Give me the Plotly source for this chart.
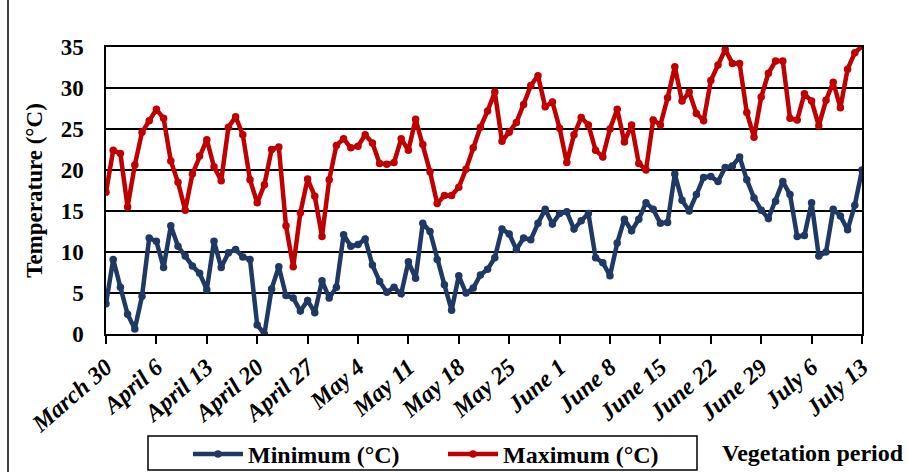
import pandas as pd
import plotly.graph_objects as go

# Daily observation dates of the vegetation period
dates = pd.date_range("2021-03-30", "2021-07-13", freq="D")

# Daily minimum air temperature (°C)
t_min = [
    3.7, 9.1, 5.7, 2.4, 0.6, 4.6, 11.7, 11.3, 8.1, 13.2,
    10.7, 9.5, 8.3, 7.4, 5.4, 11.3, 8.1, 9.9, 10.3, 9.4,
    9.1, 1.1, 0.0, 5.5, 8.2, 4.7, 4.4, 2.8, 4.1, 2.6,
    6.5, 4.4, 5.7, 12.1, 10.7, 10.9, 11.6, 8.4, 6.4, 5.1,
    5.7, 4.9, 8.8, 6.8, 13.5, 12.5, 9.1, 6.0, 2.9, 7.1,
    5.0, 5.6, 7.2, 7.9, 9.3, 12.8, 12.2, 10.3, 11.7, 11.5,
    13.5, 15.2, 13.4, 14.7, 14.9, 12.8, 13.8, 14.7, 9.3, 8.7,
    7.1, 11.1, 14.0, 12.6, 14.0, 16.0, 15.2, 13.5, 13.6, 19.5,
    16.3, 15.0, 17.0, 19.1, 19.2, 18.6, 20.3, 20.5, 21.6, 18.8,
    16.6, 15.1, 14.1, 16.2, 18.6, 17.0, 11.9, 12.0, 16.0, 9.5,
    10.0, 15.2, 14.4, 12.7, 15.7, 20.0,
]

# Daily maximum air temperature (°C)
t_max = [
    17.3, 22.4, 22.0, 15.5, 20.6, 24.6, 26.0, 27.4, 26.3, 21.1,
    18.5, 15.1, 19.5, 21.7, 23.7, 20.4, 18.7, 25.2, 26.5, 24.3,
    18.8, 16.0, 18.2, 22.5, 22.8, 13.2, 8.2, 14.8, 18.9, 16.8,
    11.9, 18.8, 23.0, 23.8, 22.7, 22.9, 24.3, 23.3, 20.8, 20.7,
    20.9, 23.8, 22.4, 26.2, 23.1, 19.8, 15.9, 16.9, 16.9, 17.9,
    20.1, 22.7, 25.2, 27.2, 29.5, 23.5, 24.6, 25.8, 28.0, 30.3,
    31.5, 27.7, 28.3, 25.1, 20.9, 24.3, 26.4, 25.5, 22.4, 21.6,
    25.0, 27.4, 23.4, 25.5, 20.8, 20.0, 26.1, 25.5, 28.8, 32.6,
    28.4, 29.5, 26.9, 26.0, 30.9, 32.8, 34.7, 33.0, 33.0, 27.0,
    24.0, 28.9, 31.8, 33.3, 33.3, 26.3, 26.1, 29.3, 28.4, 25.4,
    28.5, 30.7, 27.6, 32.3, 34.3, 35.1,
]

# Weekly tick marks along the date axis
tick_dates = dates[::7]
tick_labels = [f"{d.strftime('%B')} {d.day}" for d in tick_dates]
y_ticks = [0, 5, 10, 15, 20, 25, 30, 35]

FONT = "Liberation Serif, Times New Roman, serif"
BLUE = "#1F3864"
RED = "#C00000"

# plot-area geometry in pixels (used to place items outside the axes)
L, R, T, B = 106, 862, 47, 334
W, H = R - L, B - T


def px_x(x):
    return (x - L) / W


def px_y(y):
    return (B - y) / H


fig = go.Figure()
fig.add_trace(go.Scatter(
    x=dates, y=t_min, name="Minimum (°C)", mode="lines+markers",
    line=dict(color=BLUE, width=4.5), marker=dict(color=BLUE, size=7.5),
))
fig.add_trace(go.Scatter(
    x=dates, y=t_max, name="Maximum (°C)", mode="lines+markers",
    line=dict(color=RED, width=4.5), marker=dict(color=RED, size=7.5),
))

fig.update_layout(
    width=909, height=472,
    margin=dict(l=L, r=909 - R, t=T, b=472 - B, autoexpand=False),
    paper_bgcolor="white", plot_bgcolor="white",
    font=dict(family=FONT, color="black"),
    showlegend=True,
    legend=dict(
        orientation="h", x=px_x(188), y=px_y(432), xanchor="left", yanchor="top",
        borderwidth=0, bgcolor="rgba(0,0,0,0)",
        font=dict(family=FONT, size=24, weight="bold", color="black"),
        entrywidth=190, entrywidthmode="pixels", itemwidth=50,
    ),
    xaxis=dict(
        type="date", range=[dates[0], dates[-1]],
        tickmode="array", tickvals=tick_dates, ticktext=tick_labels,
        tickangle=-41, ticks="outside", ticklen=8, tickwidth=1.5, tickcolor="black",
        tickfont=dict(family=FONT, size=24, weight="bold", style="italic", color="black"),
        showline=True, linecolor="black", linewidth=1.5, mirror=True,
        showgrid=False, zeroline=False,
    ),
    yaxis=dict(
        range=[0, 35], tickmode="array", tickvals=y_ticks,
        tickfont=dict(family=FONT, size=23, weight="bold", color="black"),
        ticklabelstandoff=16,
        title=dict(text="Temperature (°C)", standoff=12,
                   font=dict(family=FONT, size=23, weight="bold", color="black")),
        showline=True, linecolor="black", linewidth=1.5, mirror=True,
        showgrid=True, gridcolor="black", gridwidth=1.5, zeroline=False,
    ),
)

# Legend frame
fig.add_shape(
    type="rect", xref="paper", yref="paper",
    x0=px_x(148), x1=px_x(697), y0=px_y(470), y1=px_y(436),
    line=dict(color="black", width=1.5), fillcolor="rgba(0,0,0,0)", layer="below",
)

fig.add_annotation(
    text="Vegetation period", xref="paper", yref="paper",
    x=px_x(906), y=px_y(453), xanchor="right", yanchor="middle",
    showarrow=False, font=dict(family=FONT, size=24, weight="bold", color="black"),
)

# Chart frame on the left edge
fig.add_shape(
    type="line", xref="paper", yref="paper",
    x0=px_x(8), x1=px_x(8), y0=px_y(472), y1=px_y(0),
    line=dict(color="black", width=1.5),
)

fig.write_html("out.html")
